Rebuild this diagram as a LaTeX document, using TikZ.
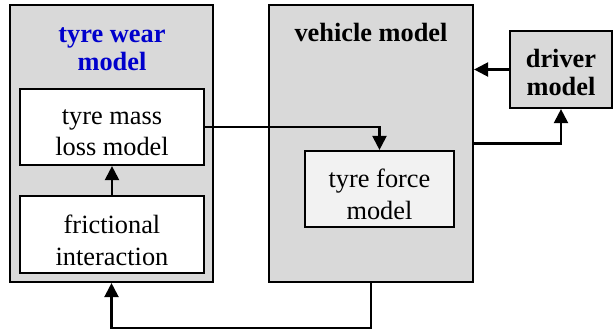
\documentclass[tikz,border=0pt]{standalone}
\usepackage{fontspec}
\setmainfont{Liberation Serif}
\usetikzlibrary{arrows.meta}

\definecolor{boxgray}{HTML}{D9D9D9}
\definecolor{lightgray}{HTML}{F2F2F2}
\definecolor{titleblue}{RGB}{0,0,204}

\begin{document}
\begin{tikzpicture}[x=0.02cm,y=-0.02cm,line width=1.25pt]
\useasboundingbox (0,0) rectangle (613,335);

\tikzset{
    block/.style={draw=black,fill=#1,inner sep=0pt},
    boxtext/.style={
        align=center,yshift=-3.2pt,font=\fontsize{15}{18}\selectfont
    },
    title/.style={
        align=center,font=\fontsize{15}{16}\selectfont\bfseries
    },
    arr/.style={-{Triangle[length=8pt,width=8pt]}}
}

\node[block=boxgray,minimum width=4.06cm,minimum height=5.54cm] (wear) at (111.5,143.5) {};
\node[title,text=titleblue] (weartitle) at (112,49.5) {tyre wear\\model};
\node[block=white,minimum width=3.68cm,minimum height=1.52cm] (mass) at (112,127) {};
\node[boxtext] (masstext) at (mass) {tyre mass\\loss model};
\node[block=white,minimum width=3.68cm,minimum height=1.54cm] (fric) at (112,234.5) {};
\node[boxtext] (frictext) at (fric) {frictional\\interaction};

\node[block=boxgray,minimum width=4.08cm,minimum height=5.54cm] (vehicle) at (371,143.5) {};
\node[title] (vehicletitle) at (371,32) {vehicle model};
\node[block=lightgray,minimum width=2.98cm,minimum height=1.52cm] (force) at (379.5,189) {};
\node[boxtext] (forcetext) at (force) {tyre force\\model};

\node[block=boxgray,minimum width=2.04cm,minimum height=1.54cm] (driver) at (561,69.5) {};
\node[title,yshift=-1.8pt] (drivertext) at (driver) {driver\\model};

\draw[arr] (fric.north) -- (mass.south);
\draw[arr] (mass.east) -| (force.north);
\draw[arr] (driver.west) -- (driver.west -| vehicle.east);
\draw[arr] (vehicle.east) -| (driver.south);

\coordinate (low) at (371,328);
\draw[arr] (vehicle.south) -- (low) -| (wear.south);

\end{tikzpicture}
\end{document}
